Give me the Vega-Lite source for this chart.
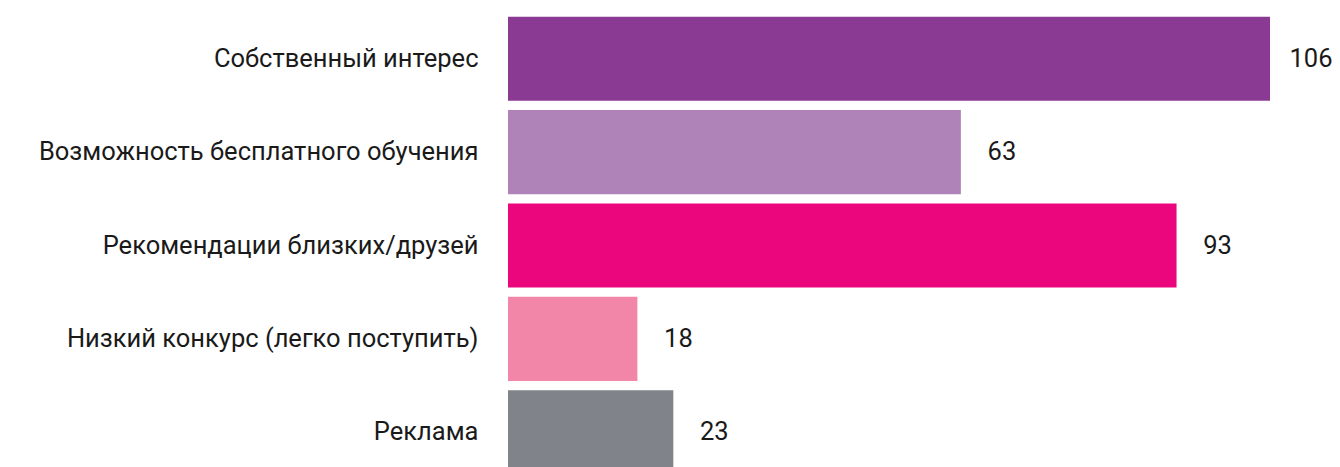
{
  "$schema": "https://vega.github.io/schema/vega-lite/v6.json",
  "autosize": {"type": "none"},
  "padding": {"left": 508, "top": 12, "right": 70, "bottom": 0},
  "width": 762,
  "height": 467,
  "background": "white",
  "config": {"view": {"stroke": null}, "font": "Roboto"},
  "data": {"values": [
    {"reason": "Собственный интерес", "value": 106, "color": "#8B3A93"},
    {"reason": "Возможность бесплатного обучения", "value": 63, "color": "#B083B8"},
    {"reason": "Рекомендации близких/друзей", "value": 93, "color": "#EC067E"},
    {"reason": "Низкий конкурс (легко поступить)", "value": 18, "color": "#F286A9"},
    {"reason": "Реклама", "value": 23, "color": "#808389"}
  ]},
  "encoding": {
    "y": {"field": "reason", "type": "nominal", "sort": null,
      "scale": {"paddingInner": 0.1, "paddingOuter": 0.05},
      "axis": {"title": null, "ticks": false, "domain": false, "labelPadding": 30,
        "labelFontSize": 25.5, "labelColor": "#1a1a1a", "labelFont": "Roboto", "labelLimit": 500}},
    "x": {"field": "value", "type": "quantitative", "scale": {"domain": [0, 106], "nice": false},
      "axis": null}
  },
  "layer": [
    {"mark": {"type": "bar"}, "encoding": {"color": {"field": "color", "type": "nominal", "scale": null}}},
    {"mark": {"type": "text", "align": "center", "dx": 41, "fontSize": 25.5, "color": "#1a1a1a", "font": "Roboto"},
      "encoding": {"text": {"field": "value", "type": "quantitative"}}}
  ]
}
